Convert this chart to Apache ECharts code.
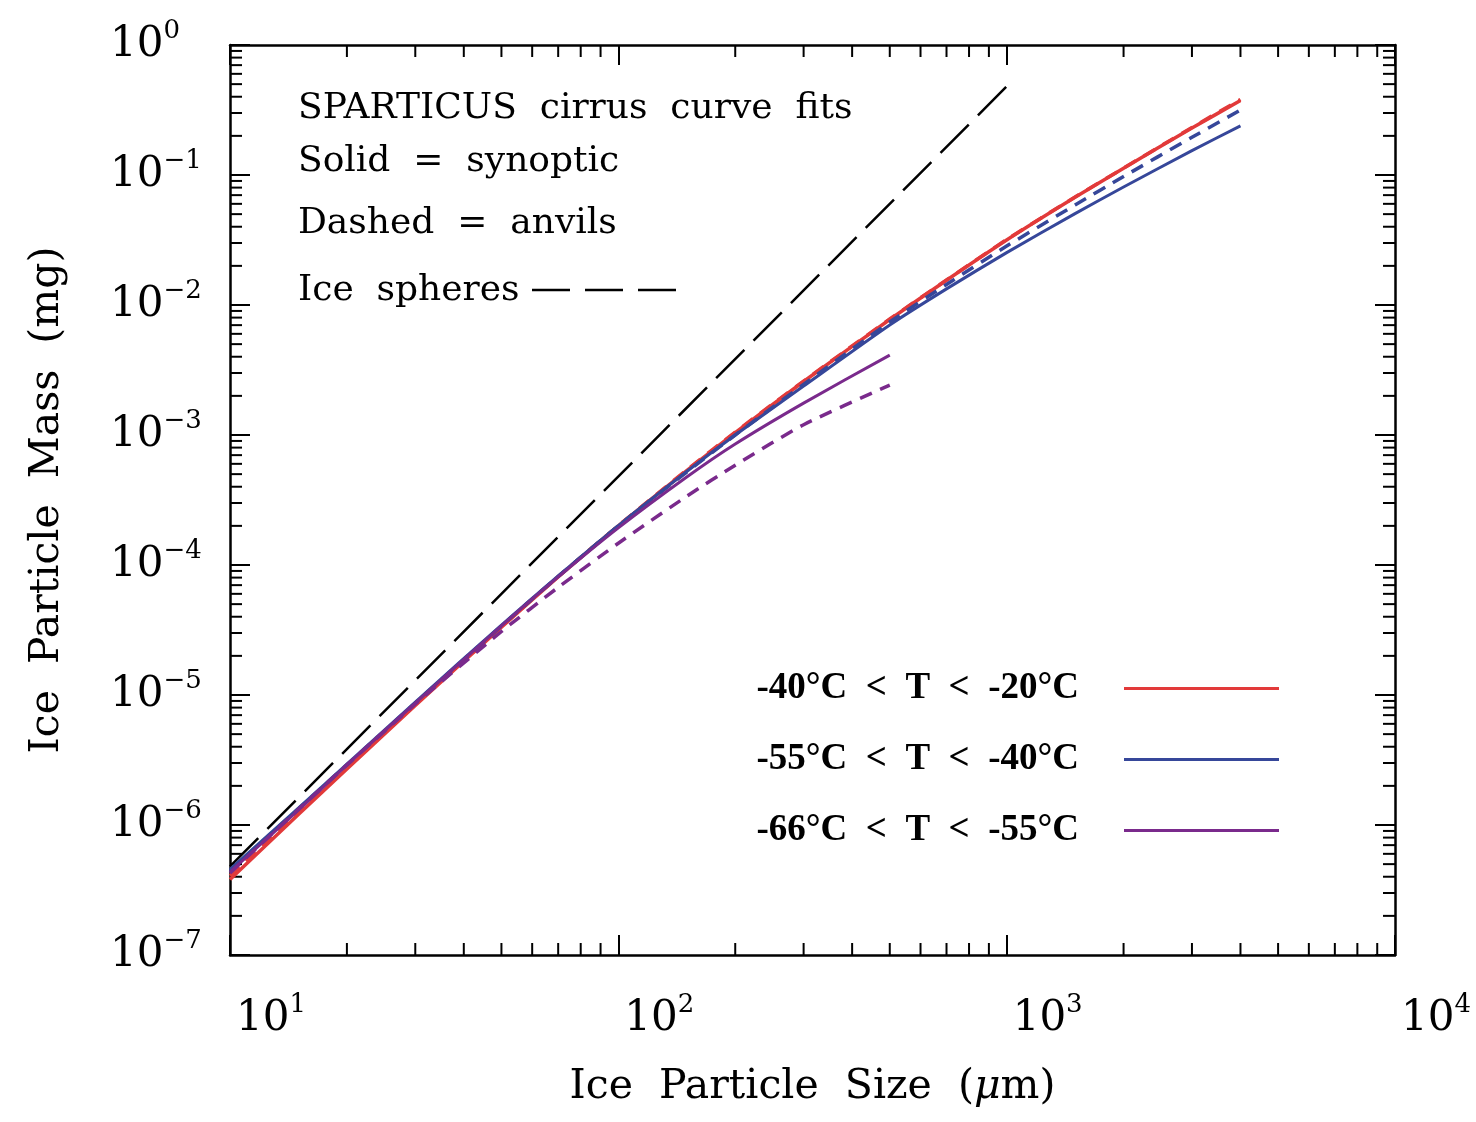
<!DOCTYPE html>
<html><head><meta charset="utf-8">
<script src="https://cdn.jsdelivr.net/npm/echarts/dist/echarts.min.js"></script>
<style>html,body{margin:0;padding:0;background:#fff}#c{width:1476px;height:1122px}</style>
</head><body><div id="c"></div>
<script>
// ---- data ----
const sizesLong = [10,15,20,30,50,70,100,150,200,300,500,700,1000,1500,2000,3000,4000];
const sizesShort = [10,15,20,30,50,70,100,150,200,300,500];
const redSynoptic = [3.81e-7,1.205e-6,2.70e-6,8.32e-6,3.33e-5,8.09e-5,2.00e-4,5.33e-4,1.042e-3,2.58e-3,7.74e-3,1.549e-2,3.16e-2,6.73e-2,0.1127,0.2296,0.374];
const redAnvil    = [4.06e-7,1.26e-6,2.79e-6,8.45e-6,3.36e-5,8.16e-5,2.01e-4,5.38e-4,1.054e-3,2.60e-3,7.80e-3,1.557e-2,3.19e-2,6.77e-2,0.113,0.232,0.381];
const blueSynoptic = [4.55e-7,1.35e-6,2.94e-6,8.83e-6,3.45e-5,8.23e-5,2.01e-4,5.24e-4,1.0e-3,2.38e-3,7.02e-3,1.33e-2,2.53e-2,5.05e-2,8.09e-2,0.154,0.239];
const blueAnvil    = [4.43e-7,1.33e-6,2.90e-6,8.67e-6,3.40e-5,8.16e-5,2.0e-4,5.19e-4,1.0e-3,2.45e-3,7.40e-3,1.44e-2,2.84e-2,5.88e-2,9.73e-2,0.195,0.316];
const purpleSynoptic = [4.35e-7,1.30e-6,2.90e-6,8.67e-6,3.40e-5,8.09e-5,1.93e-4,4.75e-4,8.53e-4,1.76e-3,4.12e-3];
const purpleAnvil    = [4.28e-7,1.32e-6,2.90e-6,8.53e-6,3.08e-5,6.73e-5,1.47e-4,3.38e-4,5.86e-4,1.20e-3,2.42e-3];
const sphereSizes = [10, 1000];
const sphereMass = [4.8e-7, 0.48];
const legendNames = ['-40°C  <  T  <  -20°C','-55°C  <  T  <  -40°C','-66°C  <  T  <  -55°C'];
const noteLines = ['SPARTICUS  cirrus  curve  fits','Solid  =  synoptic','Dashed  =  anvils','Ice  spheres'];
const xMinorTicks = [20,30,40,50,60,70,80,90,200,300,400,500,600,700,800,900,2000,3000,4000,5000,6000,7000,8000,9000];
const yMinorTicks = [];
[1e-7,1e-6,1e-5,1e-4,1e-3,1e-2,1e-1].forEach(d=>{[2,3,4,5,6,7,8,9].forEach(k=>yMinorTicks.push(k*d));});

const RED='#e23a3a', BLUE='#36479a', PURPLE='#7a2a8c';
const pair=(xs,ys)=>xs.map((x,i)=>[x,ys[i]]);
const serif='DejaVu Serif';
const MAJ=20, MIN=12;

const labelRich = {
  b:{fontFamily:serif,fontSize:42,lineHeight:42,color:'#000'},
  s:{fontFamily:serif,fontSize:26,lineHeight:26,padding:[0,0,27,0],color:'#000'}
};
function expLabel(v){const e=Math.round(Math.log10(v));return '{b|10}{s|'+(e<0?'\u2212'+(-e):e)+'}';}

const axisLineStyle={lineStyle:{color:'#000',width:2.5}};
const tickStyle={inside:true,length:MAJ,lineStyle:{color:'#000',width:2}};

const chart = echarts.init(document.getElementById('c'),null,{renderer:'canvas'});
const ticksData = xMinorTicks.map(v=>[v,1e-7,0]).concat(yMinorTicks.map(v=>[10,v,1]));
const noteFont='36px "DejaVu Serif"';

chart.setOption({
  animation:false,
  backgroundColor:'#fff',
  grid:{left:230,right:81,top:45,bottom:167,containLabel:false,outerBoundsMode:'none'},
  xAxis:[
    {type:'log',logBase:10,min:10,max:10000,splitNumber:3,position:'bottom',
     axisLine:axisLineStyle,axisTick:tickStyle,splitLine:{show:false},
     axisLabel:{formatter:expLabel,rich:labelRich,align:'left',margin:43,padding:[0,0,0,6],showMinLabel:true,showMaxLabel:true},
     name:'{n|Ice  Particle  Size  (}{i|\u03bc}{n|m)}',nameLocation:'middle',nameGap:112,
     nameTextStyle:{rich:{n:{fontFamily:serif,fontSize:41,color:'#000'},i:{fontFamily:serif,fontStyle:'italic',fontSize:41,color:'#000'}}}},
    {type:'log',logBase:10,min:10,max:10000,splitNumber:3,position:'top',
     axisLine:axisLineStyle,axisTick:tickStyle,axisLabel:{show:false},splitLine:{show:false}}
  ],
  yAxis:[
    {type:'log',logBase:10,min:1e-7,max:1,splitNumber:7,position:'left',
     axisLine:axisLineStyle,axisTick:tickStyle,splitLine:{show:false},
     axisLabel:{formatter:expLabel,rich:labelRich,align:'left',margin:120,showMinLabel:true,showMaxLabel:true},
     name:'Ice  Particle  Mass  (mg)',nameLocation:'middle',nameRotate:90,nameGap:162,
     nameTextStyle:{fontFamily:serif,fontSize:41,color:'#000'}},
    {type:'log',logBase:10,min:1e-7,max:1,splitNumber:7,position:'right',
     axisLine:axisLineStyle,axisTick:tickStyle,axisLabel:{show:false},splitLine:{show:false}}
  ],
  legend:{orient:'vertical',right:192,top:665,align:'right',icon:'rect',itemWidth:155,itemHeight:3,itemGap:34,
    textStyle:{fontFamily:'Liberation Serif',fontWeight:'bold',fontSize:37,color:'#000',padding:[0,40,0,0]},
    data:legendNames},
  graphic:[
    {type:'text',x:298,y:109,style:{text:noteLines[0],font:noteFont,fill:'#000',verticalAlign:'middle'}},
    {type:'text',x:298,y:162,style:{text:noteLines[1],font:noteFont,fill:'#000',verticalAlign:'middle'}},
    {type:'text',x:298,y:224,style:{text:noteLines[2],font:noteFont,fill:'#000',verticalAlign:'middle'}},
    {type:'text',x:298,y:291,style:{text:noteLines[3],font:noteFont,fill:'#000',verticalAlign:'middle'}},
    {type:'line',shape:{x1:532,y1:290,x2:677,y2:290},style:{stroke:'#000',lineWidth:2.5,lineDash:[38,15]}}
  ],
  series:[
    {type:'custom',name:'minorTicks',silent:true,clip:false,data:ticksData,
     renderItem:function(params,api){
       const bl=api.coord([10,1e-7]), tr=api.coord([10000,1]);
       const st={stroke:'#000',lineWidth:2};
       if(api.value(2)===0){
         const x=api.coord([api.value(0),1e-7])[0];
         return {type:'group',children:[
           {type:'line',shape:{x1:x,y1:bl[1],x2:x,y2:bl[1]-MIN},style:st},
           {type:'line',shape:{x1:x,y1:tr[1],x2:x,y2:tr[1]+MIN},style:st}]};
       } else {
         const y=api.coord([10,api.value(1)])[1];
         return {type:'group',children:[
           {type:'line',shape:{x1:bl[0],y1:y,x2:bl[0]+MIN,y2:y},style:st},
           {type:'line',shape:{x1:tr[0],y1:y,x2:tr[0]-MIN,y2:y},style:st}]};
       }
     }},
    {type:'line',name:'Ice spheres',data:pair(sphereSizes,sphereMass),symbol:'none',lineStyle:{color:'#000',width:2.5,type:[40,13]},itemStyle:{color:'#000'}},
    {type:'line',name:legendNames[0],data:pair(sizesLong,redSynoptic),symbol:'none',smooth:0.2,lineStyle:{color:RED,width:3.5},itemStyle:{color:RED}},
    {type:'line',name:'red anvils',data:pair(sizesLong,redAnvil),symbol:'none',smooth:0.2,lineStyle:{color:RED,width:3.5,type:[13,9]},itemStyle:{color:RED}},
    {type:'line',name:legendNames[1],data:pair(sizesLong,blueSynoptic),symbol:'none',smooth:0.2,lineStyle:{color:BLUE,width:3},itemStyle:{color:BLUE}},
    {type:'line',name:'blue anvils',data:pair(sizesLong,blueAnvil),symbol:'none',smooth:0.2,lineStyle:{color:BLUE,width:3.5,type:[13,9]},itemStyle:{color:BLUE}},
    {type:'line',name:legendNames[2],data:pair(sizesShort,purpleSynoptic),symbol:'none',smooth:0.2,lineStyle:{color:PURPLE,width:3},itemStyle:{color:PURPLE}},
    {type:'line',name:'purple anvils',data:pair(sizesShort,purpleAnvil),symbol:'none',smooth:0.2,lineStyle:{color:PURPLE,width:3.5,type:[13,9]},itemStyle:{color:PURPLE}}
  ]
});
</script></body></html>
